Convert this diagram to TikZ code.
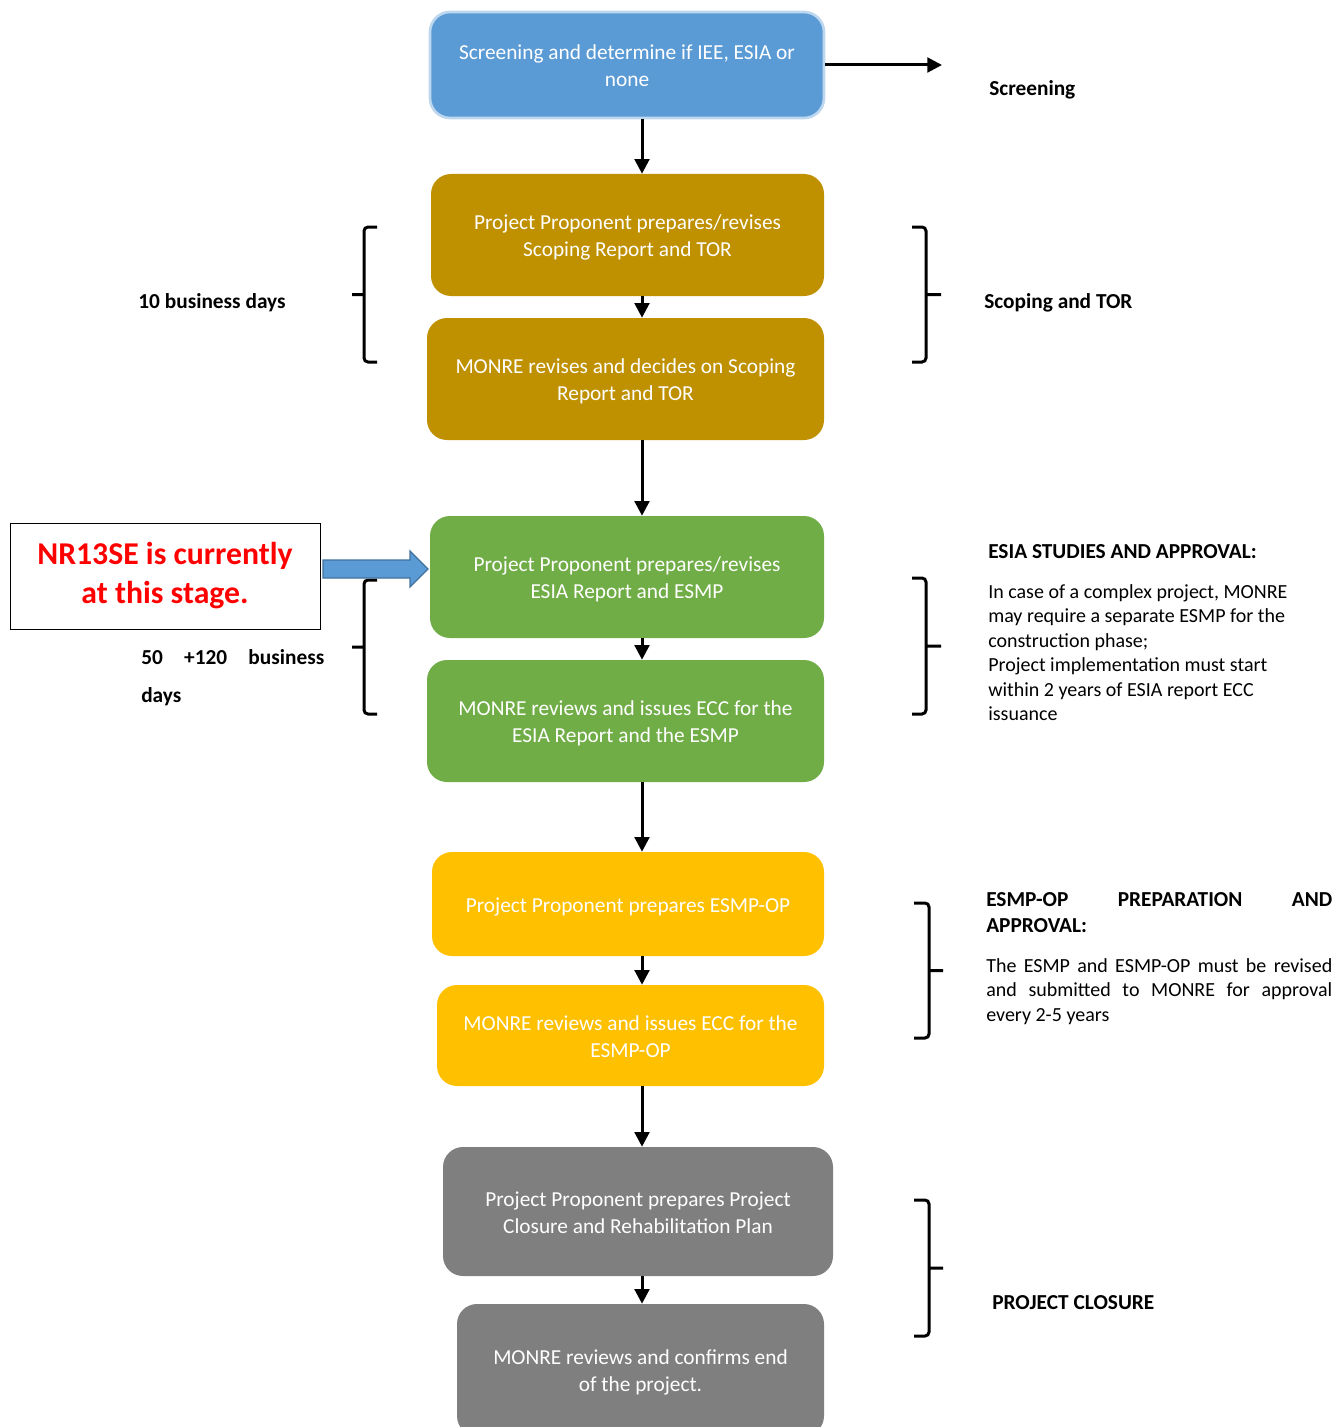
\documentclass[tikz,border=0pt]{standalone}
\usepackage{fontspec}
\setmainfont{Carlito}
\usetikzlibrary{arrows.meta,positioning}

\definecolor{screenblue}{HTML}{5B9BD5}
\definecolor{screenedge}{HTML}{BDD7EE}
\definecolor{arrowedge}{HTML}{41719C}
\definecolor{scopegold}{HTML}{BF9000}
\definecolor{esiagreen}{HTML}{70AD47}
\definecolor{opyellow}{HTML}{FFC000}
\definecolor{closegray}{HTML}{7F7F7F}

\begin{document}
\begin{tikzpicture}[x=0.75pt,y=-0.75pt,>={Triangle[width=11pt,length=11pt]},
    stage/.style={rounded corners=15pt,text=white,align=center,inner sep=0pt,
        font=\fontsize{16}{20.25}\selectfont,text height=37pt,text depth=4.5pt},
    flow/.style={->,line width=2.25pt},
    brace/.style={line width=2.25pt,rounded corners=3pt},
    tag/.style={font=\fontsize{16}{18.3}\selectfont\bfseries,inner sep=0pt},
    remark/.style={font=\fontsize{15}{18.4}\selectfont,inner sep=0pt,anchor=north west,align=left}]

\useasboundingbox (0,0) rectangle (1340,1427);

% flow boxes
\node [stage,fill=screenblue,draw=screenedge,line width=2pt,
    minimum width=295.5pt,minimum height=79.5pt] (screen) at (627,65)
    {Screening and determine if IEE, ESIA or\\none};

\node [stage,fill=scopegold,minimum width=294.75pt,minimum height=91.5pt] (scope1) at (627.5,235)
    {Project Proponent prepares/revises\\Scoping Report and TOR};
\node [stage,fill=scopegold,minimum width=297.75pt,minimum height=91.5pt] (scope2) at (625.5,379)
    {MONRE revises and decides on Scoping\\Report and TOR};

\node [stage,fill=esiagreen,minimum width=295.5pt,minimum height=91.5pt] (esia1) at (627,577)
    {Project Proponent prepares/revises\\ESIA Report and ESMP};
\node [stage,fill=esiagreen,minimum width=297.75pt,minimum height=91.5pt] (esia2) at (625.5,721)
    {MONRE reviews and issues ECC for the\\ESIA Report and the ESMP};

\node [stage,fill=opyellow,text height=16.75pt,minimum width=294pt,minimum height=78pt] (op1) at (628,904)
    {Project Proponent prepares ESMP-OP};
\node [stage,fill=opyellow,minimum width=290.25pt,minimum height=75.75pt] (op2) at (630.5,1035.5)
    {MONRE reviews and issues ECC for the\\ESMP-OP};

\node [stage,fill=closegray,minimum width=292.5pt,minimum height=96.75pt] (close1) at (638,1211.5)
    {Project Proponent prepares Project\\Closure and Rehabilitation Plan};
\node [stage,fill=closegray,minimum width=275.25pt,minimum height=99pt] (close2) at (640.5,1370)
    {MONRE reviews and confirms end\\of the project.};

% arrows down the middle
\coordinate (spine) at (642,0);
\draw [flow] (screen.south -| spine) -- (scope1.north -| spine);
\draw [flow] (scope1.south -| spine) -- (scope2.north -| spine);
\draw [flow] (scope2.south -| spine) -- (esia1.north -| spine);
\draw [flow] (esia1.south -| spine) -- (esia2.north -| spine);
\draw [flow] (esia2.south -| spine) -- (op1.north -| spine);
\draw [flow] (op1.south -| spine) -- (op2.north -| spine);
\draw [flow] (op2.south -| spine) -- (close1.north -| spine);
\draw [flow] (close1.south -| spine) -- (close2.north -| spine);

\coordinate (scrtip) at (942,65);
\draw [flow] (screen.east) -- (scrtip);

% braces
\foreach \top/\bot in {227/362,580/714}
    \draw [brace] (377,\top) -- (364,\top) -- (364,\bot) -- (377,\bot)
        (364,{(\top+\bot)/2}) -- (352,{(\top+\bot)/2});
\foreach \xa/\xb/\xc/\top/\bot in {912/926/941/227/362,912/926/941/578/714,
        914/929/943/903/1038,914/929/943/1200/1336}
    \draw [brace] (\xa,\top) -- (\xb,\top) -- (\xb,\bot) -- (\xa,\bot)
        (\xb,{(\top+\bot)/2}) -- (\xc,{(\top+\bot)/2});

% current stage marker
\node [draw,line width=0.75pt,minimum width=232.5pt,minimum height=79.5pt,inner sep=0pt,
    align=center,text=red,font=\fontsize{23.8}{29.25}\selectfont\bfseries] (now) at (165,576)
    {NR13SE is currently\\at this stage.};
\draw [fill=screenblue,draw=arrowedge,line width=1pt]
    (323,560) -- (410,560) -- (410,551) -- (428,569) -- (410,587) -- (410,578) -- (323,578) -- cycle;

% left labels
\node [tag] (tendays) at (212,303) {10 business days};
\node [tag,anchor=north west,align=left,font=\fontsize{16}{28.5}\selectfont\bfseries] (esiadays) at (141,649)
    {\makebox[137.25pt][s]{50\hfill +120\hfill business}\\days};

% right labels
\node [tag,anchor=west] (scrlab) at (989,90) {Screening};
\node [tag,anchor=west] (scoplab) at (984,303) {Scoping and TOR};
\node [tag,anchor=west] (esialab) at (988,552) {ESIA STUDIES AND APPROVAL:};
\node [remark] (esianote) at (988,584)
    {In case of a complex project, MONRE\\may require a separate ESMP for the\\construction phase;\\
     Project implementation must start\\within 2 years of ESIA report ECC\\issuance};
\node [tag,anchor=north west,align=left,font=\fontsize{16}{19.5}\selectfont\bfseries] (oplab) at (986,892)
    {\makebox[259.5pt][s]{ESMP-OP\hfill PREPARATION\hfill AND}\\APPROVAL:};
\node [remark] (opnote) at (986,958)
    {\makebox[259.5pt][s]{The ESMP and ESMP-OP must be revised}\\
     \makebox[259.5pt][s]{and submitted to MONRE for approval}\\every 2-5 years};
\node [tag,anchor=west] (closelab) at (992,1303) {PROJECT CLOSURE};

\end{tikzpicture}
\end{document}
